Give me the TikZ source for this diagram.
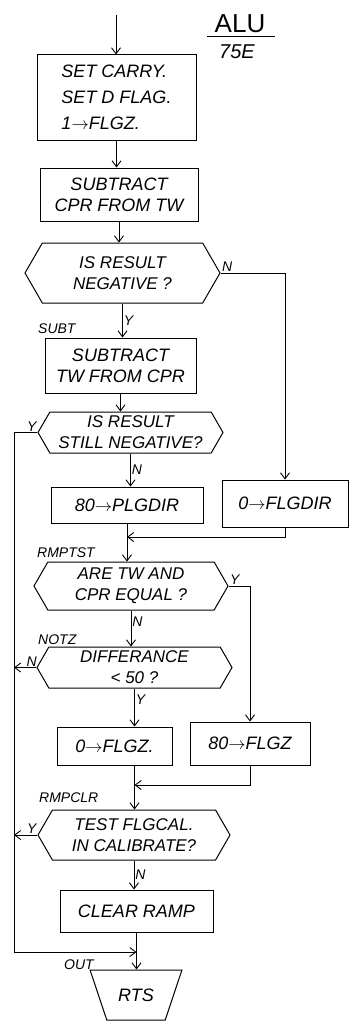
\documentclass[tikz,border=0pt]{standalone}
\usepackage{fontspec}
\setmainfont{Liberation Sans}
\usetikzlibrary{positioning}
\usetikzlibrary{arrows.meta}
\usetikzlibrary{calc}
\usetikzlibrary{shapes.symbols}
\usetikzlibrary{shapes.geometric}

\begin{document}
\begin{tikzpicture}[
        x=1pt, y=-1pt,
        every node/.style={font=\fontsize{18}{21}\selectfont\itshape},
        arrow/.style={-{Straight Barb[length=6pt,width=9pt]}, line width=0.9pt, draw=black},
        box/.style={draw=black, line width=1pt, align=center, inner sep=2pt},
        decision/.style={draw=black, line width=1pt, signal, signal to=east and west,
            signal pointer angle=120, align=center, inner sep=0pt,
            font=\fontsize{17}{21}\selectfont\itshape},
        tag/.style={font=\fontsize{14}{16}\selectfont\itshape, inner sep=1pt}
    ]

        \useasboundingbox (0,0) rectangle (352,1025);

        % -------------------------------------------------
        % Title
        % -------------------------------------------------
        \node[font=\fontsize{26}{28}\selectfont, inner sep=0pt] (alu) at (240,24) {ALU};
        \draw[line width=0.9pt] (207,36) -- (275,36);
        \node[font=\fontsize{20}{22}\selectfont\itshape, inner sep=0pt] (code) at (237,52) {75E};

        % -------------------------------------------------
        % Main column
        % -------------------------------------------------
        \coordinate (start) at (116,15);
        \node[box, minimum width=159, minimum height=85, align=left,
            font=\fontsize{18}{26}\selectfont\itshape] (flag) at (116.5,97.5)
            {SET CARRY.\\SET D FLAG.\\1$\rightarrow$FLGZ.};
        \node[box, minimum width=158, minimum height=53] (subcpr) at (119,194.5) {SUBTRACT\\CPR FROM TW};
        \node[decision, minimum width=195, minimum height=60] (isneg) at (122.5,273) {IS RESULT\\NEGATIVE ?};
        \node[box, minimum width=151, minimum height=55] (subtw) at (120.5,365.5) {SUBTRACT\\TW FROM CPR};
        \node[decision, minimum width=185, minimum height=41] (still) at (130.5,432.5) {IS RESULT\\STILL NEGATIVE?};
        \node[box, minimum width=152, minimum height=36] (dirpos) at (127,505) {80$\rightarrow$PLGDIR};
        \node[box, minimum width=126, minimum height=47] (dirzero) at (285,503.5) {0$\rightarrow$FLGDIR};
        \node[decision, minimum width=194, minimum height=48] (equal) at (131,586) {ARE TW AND\\CPR EQUAL ?};
        \node[decision, minimum width=195, minimum height=41] (diff) at (134.5,667.5) {DIFFERANCE\\< 50 ?};
        \node[box, minimum width=115, minimum height=38] (zzero) at (114.5,746) {0$\rightarrow$FLGZ.};
        \node[box, minimum width=120, minimum height=43] (zeighty) at (250,743.5) {80$\rightarrow$FLGZ};
        \node[decision, minimum width=192, minimum height=50] (calib) at (134,835) {TEST FLGCAL.\\IN CALIBRATE?};
        \node[box, minimum width=153, minimum height=42] (clear) at (136.5,911) {CLEAR RAMP};
        \node[draw=black, line width=1pt, trapezium, trapezium left angle=122, trapezium right angle=122,
            trapezium stretches=true, minimum width=92, minimum height=50] (rts) at (136,995) {RTS};

        % entry labels
        \node[tag, anchor=west] (subt) at (37,329) {SUBT};
        \node[tag, anchor=west] (rmptst) at (36,553) {RMPTST};
        \node[tag, anchor=west] (notz) at (37,640) {NOTZ};
        \node[tag, anchor=west] (rmpclr) at (38,798) {RMPCLR};
        \node[tag, anchor=west] (out) at (63,965) {OUT};

        % -------------------------------------------------
        % Connectors
        % -------------------------------------------------
        \coordinate (bus) at (14,0);
        \coordinate (merge1) at (dirpos.south |- 0,537);
        \coordinate (merge2) at (diff.south |- 0,785);
        \coordinate (merge3) at (clear.south |- 0,952);

        \draw[arrow] (start) -- (start |- flag.north);
        \draw[arrow] (flag.south) -- (flag.south |- subcpr.north);
        \draw[arrow] (subcpr.south) -- (subcpr.south |- isneg.north);
        \draw[arrow] (isneg.south) -- (isneg.south |- subtw.north) node[tag, right, midway] {Y};
        \draw[arrow] (isneg.east) -- (isneg.east -| dirzero.north) node[tag, above right, pos=0] {N}
            -- (dirzero.north);
        \draw[arrow] (subtw.south) -- (subtw.south |- still.north);
        \draw[arrow] (still.south) -- (still.south |- dirpos.north) node[tag, right, midway] {N};
        \draw[arrow] (still.west) -- (still.west -| bus) node[tag, above right, midway] {Y}
            -- (bus |- merge3) -- (merge3);

        \draw[arrow] (dirpos.south) -- (dirpos.south |- equal.north);
        \draw[arrow] (dirzero.south) |- (merge1);
        \draw[arrow] (equal.south) -- (equal.south |- diff.north) node[tag, right, pos=0.3] {N};
        \draw[arrow] (equal.east) -- (equal.east -| zeighty.north) node[tag, above right, pos=0] {Y}
            -- (zeighty.north);
        \draw[arrow] (diff.west) -- (diff.west -| bus) node[tag, above right, midway] {N};
        \draw[arrow] (diff.south) -- (diff.south |- zzero.north) node[tag, right, pos=0.3] {Y};

        \draw[arrow] (diff.south |- zzero.south) -- (diff.south |- calib.north);
        \draw[arrow] (zeighty.south) |- (merge2);
        \draw[arrow] (calib.west) -- (calib.west -| bus) node[tag, above right, midway] {Y};
        \draw[arrow] (calib.south) -- (calib.south |- clear.north) node[tag, right, midway] {N};
        \draw[arrow] (clear.south) -- (clear.south |- rts.north);

    \end{tikzpicture}
\end{document}
